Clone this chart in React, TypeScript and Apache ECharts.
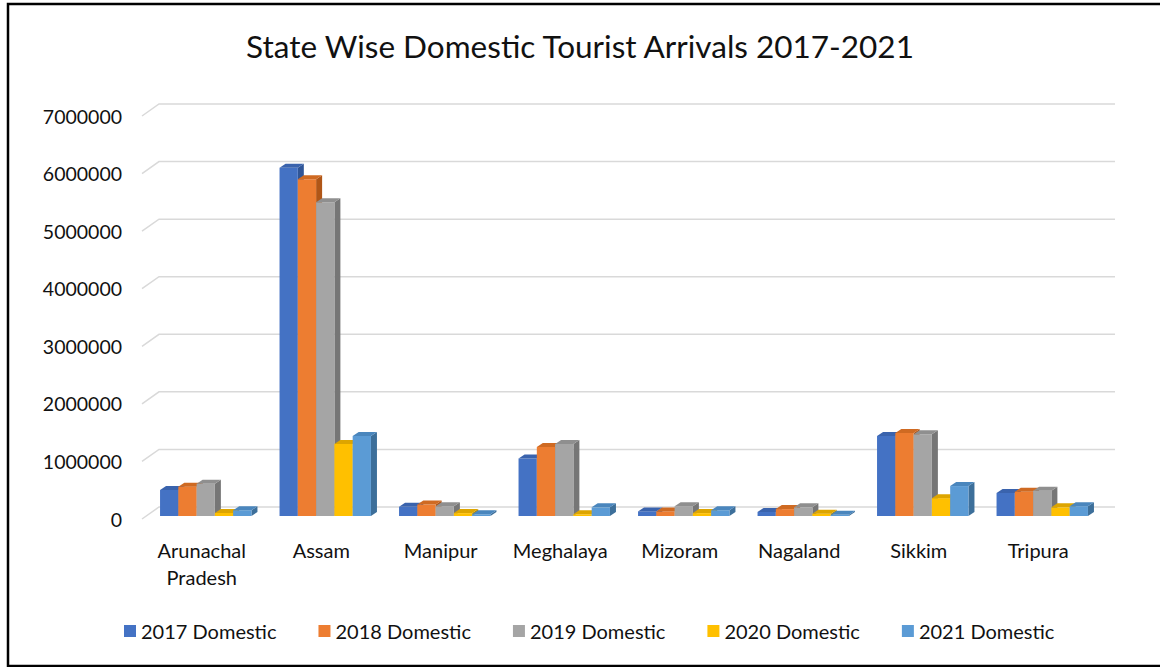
import React, { useEffect, useRef } from "react";
import * as echarts from "echarts";

const categories = ["Arunachal\nPradesh", "Assam", "Manipur", "Meghalaya", "Mizoram", "Nagaland", "Sikkim", "Tripura"];
const seriesNames = ["2017 Domestic", "2018 Domestic", "2019 Domestic", "2020 Domestic", "2021 Domestic"];
const d2017 = [450000, 6050000, 160000, 1000000, 80000, 70000, 1390000, 400000];
const d2018 = [510000, 5850000, 200000, 1200000, 80000, 120000, 1440000, 420000];
const d2019 = [560000, 5450000, 170000, 1250000, 170000, 150000, 1420000, 440000];
const d2020 = [50000, 1250000, 50000, 30000, 50000, 40000, 310000, 150000];
const d2021 = [100000, 1390000, 30000, 150000, 100000, 20000, 520000, 170000];
const yTicks = [0, 1000000, 2000000, 3000000, 4000000, 5000000, 6000000, 7000000];

const allData = [d2017, d2018, d2019, d2020, d2021];
const frontColors = ["#4472C4", "#ED7D31", "#A5A5A5", "#FFC000", "#5B9BD5"];
const topColors = ["#3A63AD", "#CF6A22", "#8F8F8F", "#DDA500", "#4A86BD"];
const sideColors = ["#2F5597", "#B05617", "#767676", "#B88A00", "#3D6F9A"];

const DX = 6;
const DY = -4;
const SHIFT_X = 4;
const SHIFT_Y = -3;
const FLOOR_DX = 17;
const FLOOR_DY = -12;

export default function App() {
  const ref = useRef<HTMLDivElement>(null);
  useEffect(() => {
    if (!ref.current) return;
    const chart = echarts.init(ref.current, null, { renderer: "svg" });
    const barSeries = allData.map((vals, s) => ({
      name: seriesNames[s],
      type: "custom",
      z: 3,
      itemStyle: { color: frontColors[s] },
      data: vals.map((v, i) => [i, v]),
      encode: { x: 0, y: 1 },
      renderItem: (params: any, api: any) => {
        const i = api.value(0);
        const v = api.value(1);
        const base = api.coord([i, 0]);
        const top = api.coord([i, v]);
        const band = api.size([1, 0])[0];
        const w = band * 0.153;
        const x0 = base[0] + SHIFT_X + (s - 2.5) * w;
        const x1 = x0 + w;
        const yb = base[1] + SHIFT_Y;
        const yt = top[1] + SHIFT_Y;
        return {
          type: "group",
          children: [
            {
              type: "polygon",
              shape: { points: [[x1, yt], [x1 + DX, yt + DY], [x1 + DX, yb + DY], [x1, yb]] },
              style: { fill: sideColors[s] },
            },
            {
              type: "rect",
              shape: { x: x0, y: yt, width: w, height: yb - yt },
              style: { fill: frontColors[s] },
            },
            {
              type: "polygon",
              shape: { points: [[x0, yt], [x0 + DX, yt + DY], [x1 + DX, yt + DY], [x1, yt]] },
              style: { fill: topColors[s] },
            },
          ],
        };
      },
    }));

    const gridSeries = {
      name: "grid",
      type: "custom",
      z: 1,
      silent: true,
      data: yTicks.map((t) => [0, t]),
      encode: { x: 0, y: 1 },
      renderItem: (params: any, api: any) => {
        const cs = params.coordSys;
        const y = api.coord([0, api.value(1)])[1];
        return {
          type: "polyline",
          shape: {
            points: [
              [cs.x, y],
              [cs.x + FLOOR_DX, y + FLOOR_DY],
              [cs.x + cs.width + FLOOR_DX, y + FLOOR_DY],
            ],
          },
          style: { stroke: "#D9D9D9", lineWidth: 1.5, fill: "none" },
        };
      },
    };

    chart.setOption({
      animation: false,
      textStyle: { fontFamily: "Lato" },
      title: {
        text: "State Wise Domestic Tourist Arrivals 2017-2021",
        left: "center",
        top: 25,
        textStyle: { fontFamily: "Lato", fontSize: 31.5, fontWeight: "normal", color: "#111" },
      },
      graphic: [
        {
          type: "rect",
          shape: { x: 8, y: 4, width: 1170, height: 662 },
          style: { fill: "none", stroke: "#000", lineWidth: 2.5 },
          z: 100,
        },
      ],
      legend: {
        data: seriesNames,
        left: 119,
        top: 616,
        icon: "rect",
        itemWidth: 12,
        itemHeight: 12,
        itemGap: 42,
        textStyle: { fontFamily: "Lato", fontSize: 20, color: "#111" },
      },
      grid: { left: 142, right: 62, top: 116, bottom: 148 },
      xAxis: {
        type: "category",
        data: categories,
        axisLine: { show: false },
        axisTick: { show: false },
        axisLabel: {
          interval: 0,
          fontFamily: "Lato",
          fontSize: 20,
          color: "#111",
          margin: 17,
          lineHeight: 27,
        },
      },
      yAxis: {
        type: "value",
        min: 0,
        max: 7000000,
        interval: 1000000,
        splitLine: { show: false },
        axisLine: { show: false },
        axisTick: { show: false },
        axisLabel: {
          fontFamily: "Lato",
          fontSize: 19.5,
          color: "#111",
          margin: 20,
          formatter: (v: number) => String(v),
        },
      },
      series: [gridSeries, ...barSeries],
    });
    return () => chart.dispose();
  }, []);
  return (
    <div
      ref={ref}
      style={{ position: "fixed", left: 0, top: 0, width: 1160, height: 667, background: "#fff" }}
    />
  );
}
